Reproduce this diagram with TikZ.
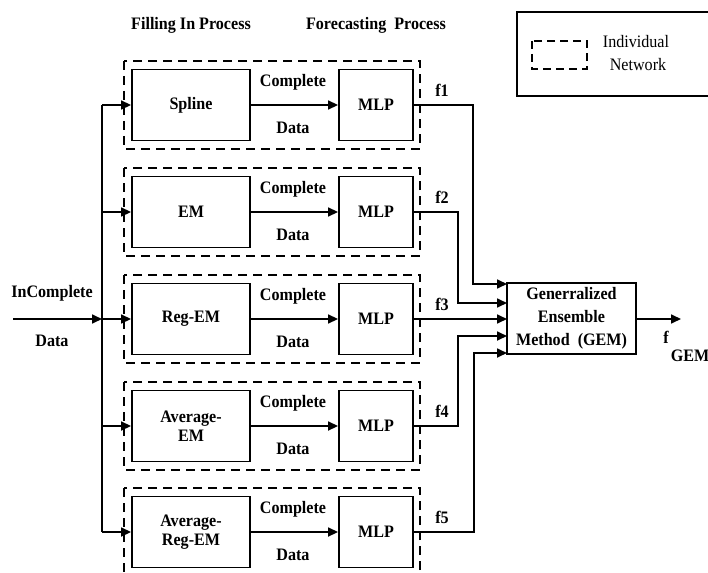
\documentclass[tikz,border=0pt]{standalone}
\usepackage{fontspec}
\setmainfont{Liberation Serif}[FakeStretch=0.92]
\usetikzlibrary{arrows.meta}
\begin{document}
\begin{tikzpicture}[x=1pt,y=-1pt,
  every node/.style={font=\fontsize{17.5}{19}\selectfont\bfseries},
  procbox/.style={draw,line width=1.9pt,minimum width=118pt,minimum height=71pt,inner sep=0pt,align=center},
  mlpbox/.style={draw,line width=1.9pt,minimum width=74pt,minimum height=71pt,inner sep=0pt},
  netbox/.style={draw,line width=2.2pt,dash pattern=on 9pt off 6pt},
  conn/.style={line width=1.7pt},
  arr/.style={conn,-{Triangle[length=10pt,width=9pt]}},
  lbl/.style={inner sep=0pt}
]
\useasboundingbox (0,0) rectangle (708,572);
\clip (0,0) rectangle (708,572);

% titles
\node[lbl] (t1) at (191,25) {Filling In Process};
\node[lbl] (t2) at (376,25) {Forecasting\ \ Process};

% legend
\draw[line width=1.9pt] (517,12) rectangle (730,96);
\draw[netbox,line width=1.8pt,dash pattern=on 8pt off 5pt] (532,41) rectangle (587,69);
\node[lbl,font=\fontsize{17.5}{19}\selectfont] (leg1) at (636,42) {Individual};
\node[lbl,font=\fontsize{17.5}{19}\selectfont] (leg2) at (638,65) {Network};

% rows
\foreach \i/\c/\name in {1/105/Spline,2/212/EM,3/319/Reg-EM,4/426/{Average-\\EM},5/532/{Average-\\Reg-EM}}{
  \draw[netbox] (124,\c-44) rectangle (420,\c+44);
  \node[procbox] (fill\i) at (191,\c) {\name};
  \node[mlpbox] (mlp\i) at (376,\c) {MLP};
  \node[lbl] (cmp\i) at (293,\c-23) {Complete};
  \node[lbl] (dat\i) at (293,\c+23) {Data};
  \node[lbl] (f\i) at (442,\c-15) {f\i};
  \coordinate (b\i) at (102,\c);
  \draw[arr] (fill\i.east) -- (mlp\i.west);
  \draw[arr] (b\i) -- (fill\i.west);
}

% input
\node[lbl] (inc) at (52,293) {InComplete};
\node[lbl] (ind) at (52,341) {Data};
\coordinate (in) at (13,319);
\draw[conn] (b1) -- (b5);
\draw[arr] (in) -- (b3);

% GEM
\node[draw,line width=1.9pt,minimum width=129pt,minimum height=71pt,inner sep=0pt,align=center] (gem) at (571.5,318.5)
  {Generralized\\[4pt]Ensemble\\[4pt]Method\ \ (GEM)};

\coordinate (g1) at (507,284);
\coordinate (g2) at (507,303);
\coordinate (g3) at (507,319);
\coordinate (g4) at (507,336);
\coordinate (g5) at (507,353);
\coordinate (k1) at (473,284);
\coordinate (k2) at (458,303);
\coordinate (k4) at (458,336);
\coordinate (k5) at (474,353);

\draw[arr] (mlp1.east) -| (k1) -- (g1);
\draw[arr] (mlp2.east) -| (k2) -- (g2);
\draw[arr] (mlp3.east) -- (g3);
\draw[arr] (mlp4.east) -| (k4) -- (g4);
\draw[arr] (mlp5.east) -| (k5) -- (g5);

% output
\coordinate (out) at (681,319);
\draw[arr] (gem.east |- g3) -- (out);
\node[lbl] (fo) at (666,337) {f};
\node[lbl] (fgem) at (690,356) {GEM};
\end{tikzpicture}
\end{document}
